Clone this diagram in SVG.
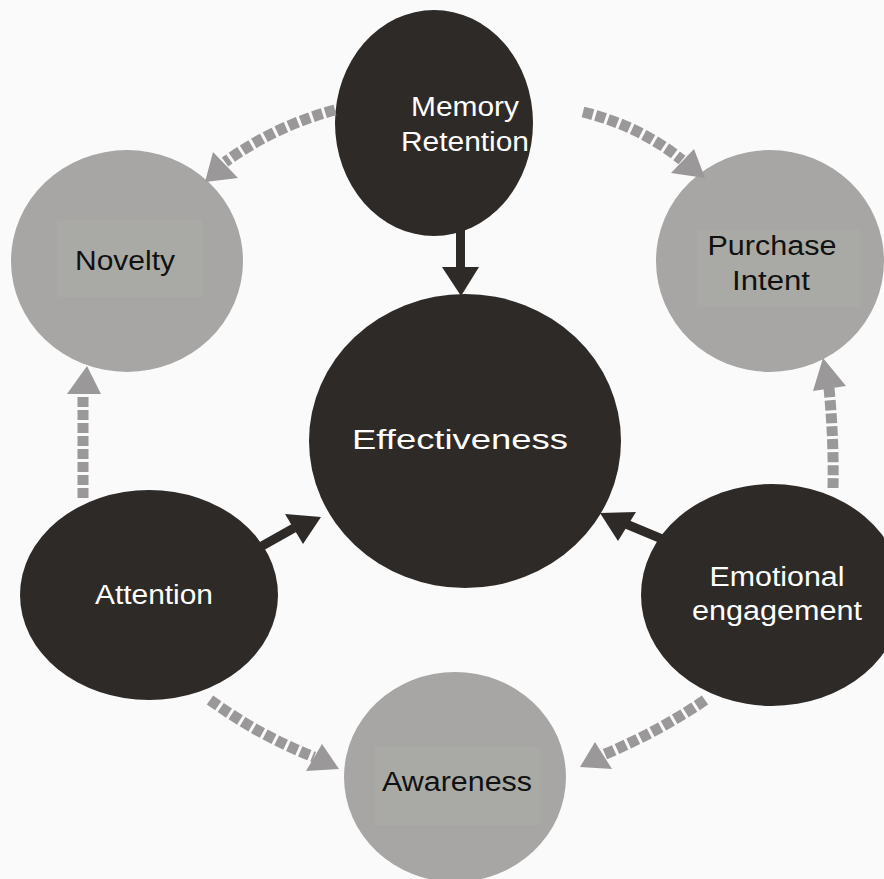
<svg xmlns="http://www.w3.org/2000/svg" width="884" height="879" viewBox="0 0 884 879">
  <style>
    .dark { fill: #2e2a27; }
    .light { fill: #a8a6a5; }
    .box { fill: #a9aaa5; }
    .lbl { font-family: "Liberation Sans", Arial, Helvetica, sans-serif; font-size: 27px; text-anchor: middle; }
    .wt { fill: #ffffff; }
    .bk { fill: #111111; }
    .dash { fill: none; stroke: #9a9898; stroke-width: 11; stroke-dasharray: 10 3; }
    .dhead { fill: #9a9898; }
    .solid { fill: #2e2a27; }
  </style>
  <rect x="0" y="0" width="884" height="879" fill="#fafafa"/>

  <g id="memory-retention">
    <ellipse class="dark" cx="434" cy="123" rx="99" ry="113"/>
    <text class="lbl wt" x="465" y="116" textLength="108" lengthAdjust="spacingAndGlyphs">Memory</text>
    <text class="lbl wt" x="465" y="151" textLength="128" lengthAdjust="spacingAndGlyphs">Retention</text>
  </g>

  <g id="novelty">
    <ellipse class="light" cx="127" cy="261" rx="116" ry="111"/>
    <rect class="box" x="57" y="220" width="145" height="77"/>
    <text class="lbl bk" x="125" y="270" font-size="28" textLength="100" lengthAdjust="spacingAndGlyphs">Novelty</text>
  </g>

  <g id="purchase-intent">
    <ellipse class="light" cx="770" cy="261" rx="114" ry="111"/>
    <rect class="box" x="697" y="230" width="163" height="77"/>
    <text class="lbl bk" x="772" y="255" textLength="129" lengthAdjust="spacingAndGlyphs">Purchase</text>
    <text class="lbl bk" x="771" y="290" textLength="78" lengthAdjust="spacingAndGlyphs">Intent</text>
  </g>

  <g id="effectiveness">
    <ellipse class="dark" cx="465" cy="441" rx="156" ry="147"/>
    <text class="lbl wt" x="460" y="449" font-size="32" textLength="216" lengthAdjust="spacingAndGlyphs">Effectiveness</text>
  </g>

  <g id="attention">
    <ellipse class="dark" cx="149" cy="595" rx="129" ry="105"/>
    <text class="lbl wt" x="154" y="604" textLength="118" lengthAdjust="spacingAndGlyphs">Attention</text>
  </g>

  <g id="emotional-engagement">
    <ellipse class="dark" cx="772" cy="595" rx="131" ry="111"/>
    <text class="lbl wt" x="777" y="586" textLength="135" lengthAdjust="spacingAndGlyphs">Emotional</text>
    <text class="lbl wt" x="777" y="620" textLength="170" lengthAdjust="spacingAndGlyphs">engagement</text>
  </g>

  <g id="awareness">
    <ellipse class="light" cx="455" cy="777" rx="111" ry="105"/>
    <rect class="box" x="375" y="747" width="165" height="78"/>
    <text class="lbl bk" x="457" y="791" font-size="28" textLength="150" lengthAdjust="spacingAndGlyphs">Awareness</text>
  </g>

  <g id="connectors">
    <!-- dashed influence arrows -->
    <path class="dash" d="M335,110 Q275,126 225,162"/>
    <polygon class="dhead" points="213,152 238,178 205,182"/>

    <path class="dash" d="M583,112 Q640,126 682,160"/>
    <polygon class="dhead" points="694,149 671,173 705,178"/>

    <path class="dash" d="M83,498 L83,393"/>
    <polygon class="dhead" points="67,394 101,394 87,366"/>

    <path class="dash" d="M833,488 Q834,440 829,388"/>
    <polygon class="dhead" points="813,391 846,386 823,358"/>

    <path class="dash" d="M210,700 Q260,736 314,757"/>
    <polygon class="dhead" points="322,744 306,771 339,769"/>

    <path class="dash" d="M705,700 Q660,731 603,755"/>
    <polygon class="dhead" points="595,742 612,769 580,767"/>

    <!-- solid arrows into the centre -->
    <rect class="solid" x="456" y="230" width="9" height="39"/>
    <polygon class="solid" points="442,267 479,267 461,296"/>

    <line x1="262" y1="546" x2="294" y2="528" stroke="#2e2a27" stroke-width="9"/>
    <polygon class="solid" points="285,514 303,544 321,517"/>

    <line x1="662" y1="539" x2="626" y2="524" stroke="#2e2a27" stroke-width="9"/>
    <polygon class="solid" points="636,512 618,541 600,513"/>
  </g>
</svg>
